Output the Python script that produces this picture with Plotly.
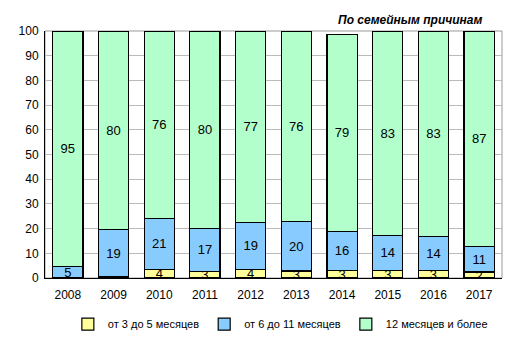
import plotly.graph_objects as go

years = ["2008", "2009", "2010", "2011", "2012", "2013", "2014", "2015", "2016", "2017"]
short = [0.0, 0.5, 3.5, 2.7, 3.5, 2.8, 3.1, 3.1, 3.0, 2.4]
mid = [4.6, 19.2, 20.7, 17.4, 19.0, 20.2, 15.8, 14.2, 13.9, 10.4]
long_ = [95.4, 80.3, 75.8, 79.9, 77.5, 76.7, 79.8, 82.7, 83.1, 87.2]
short_lbl = ["", "", "4", "3", "4", "3", "3", "3", "3", "2"]
mid_lbl = ["5", "19", "21", "17", "19", "20", "16", "14", "14", "11"]
long_lbl = ["95", "80", "76", "80", "77", "76", "79", "83", "83", "87"]
names = ["от 3 до 5 месяцев", "от 6 до 11 месяцев", "12 месяцев и более"]
colors = ["#FFFF99", "#88CCFF", "#B3FFCC"]
title = "По семейным причинам"

fig = go.Figure()
for vals, lbls, nm, col in zip([short, mid, long_], [short_lbl, mid_lbl, long_lbl], names, colors):
    fig.add_trace(go.Bar(
        x=years, y=vals, name=nm, text=lbls, texttemplate="%{text}",
        textposition="inside", insidetextanchor="middle", textangle=0,
        textfont=dict(family="Arial", size=13, color="black"),
        marker=dict(color=col, line=dict(color="black", width=1.2)),
    ))

fig.update_layout(
    barmode="stack", bargap=0.34,
    width=517, height=343,
    margin=dict(l=45, r=15, t=31, b=65, autoexpand=False),
    paper_bgcolor="white", plot_bgcolor="white",
    font=dict(family="Arial", size=12, color="black"),
    uniformtext=dict(minsize=13, mode="show"),
    showlegend=True,
    legend=dict(orientation="h", x=0.515, xanchor="center", y=0.055, yanchor="middle",
                yref="container",
                font=dict(family="Arial", size=11), traceorder="normal",
                itemwidth=30, bgcolor="rgba(0,0,0,0)"),
    xaxis=dict(showline=True, linecolor="black", linewidth=1, ticks="",
               tickfont=dict(size=12), mirror=False, ticklabelstandoff=6),
    yaxis=dict(range=[0, 100], dtick=10, showline=True, linecolor="black", linewidth=1,
               showgrid=True, gridcolor="#BBBBBB", gridwidth=1, ticks="",
               tickfont=dict(size=12), zeroline=False, ticklabelstandoff=3),
    annotations=[dict(text="<b><i>" + title + "</i></b>", x=0.96, y=1.01, xref="paper", yref="paper",
                      xanchor="right", yanchor="bottom",
                      showarrow=False, font=dict(family="Arial", size=12))],
)
fig.add_shape(type="rect", xref="paper", yref="paper", x0=0, x1=1, y0=0, y1=1,
              line=dict(color="#999999", width=1), layer="below")
fig.write_html("out.html")
